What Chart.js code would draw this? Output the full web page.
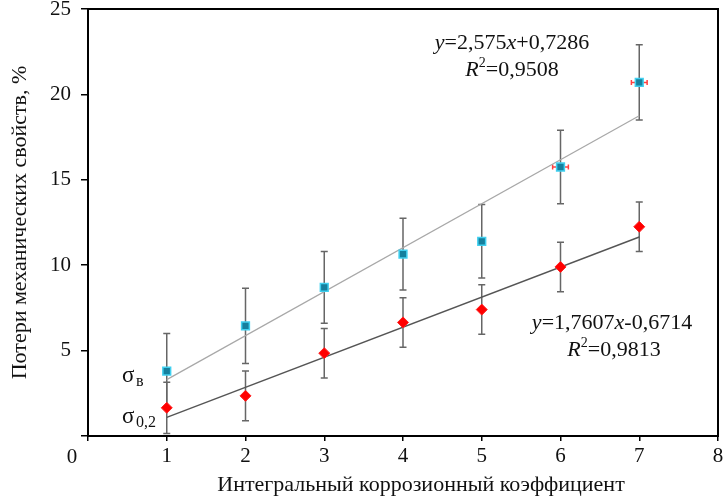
<!DOCTYPE html>
<html>
<head>
<meta charset="utf-8">
<script src="https://cdn.jsdelivr.net/npm/chart.js@4.4.1/dist/chart.umd.min.js"></script>
<style>
  html, body { margin: 0; padding: 0; background: #fff; }
  #wrap { width: 725px; height: 500px; }
</style>
</head>
<body>
<div id="wrap"><canvas id="c" width="725" height="500"></canvas></div>
<script>
// -------------------- DATA --------------------
const xValues = [1, 2, 3, 4, 5, 6, 7];
const sigmaB = [3.8, 6.45, 8.7, 10.65, 11.4, 15.75, 20.7];   // σв, blue squares
const sigmaBErr = [2.2, 2.2, 2.1, 2.1, 2.15, 2.15, 2.2];
const sigmaBxErr = [0, 0, 0, 0, 0, 0.1, 0.1];
const sigma02 = [1.65, 2.35, 4.85, 6.65, 7.4, 9.9, 12.25];   // σ0,2, red diamonds
const sigma02Err = [1.5, 1.45, 1.45, 1.45, 1.45, 1.45, 1.45];
const trendX = [1, 7];
const trendB = [3.30, 18.75];
const trend02 = [1.09, 11.65];
const yTicks = [0, 5, 10, 15, 20, 25];
const xTicks = [0, 1, 2, 3, 4, 5, 6, 7, 8];

const FONT = "'Liberation Serif', 'Times New Roman', serif";

function pts(xs, ys) { return xs.map((x, i) => ({ x: x, y: ys[i] })); }

// -------------------- PLUGINS --------------------
const errorBars = {
  id: "errorBars",
  beforeDatasetsDraw(chart) {
    const ctx = chart.ctx, xs = chart.scales.x, ys = chart.scales.y;
    const sets = [
      { vals: sigma02, err: sigma02Err },
      { vals: sigmaB, err: sigmaBErr }
    ];
    ctx.save();
    ctx.strokeStyle = "#666";
    ctx.lineWidth = 1.5;
    sets.forEach(s => {
      xValues.forEach((x, i) => {
        const px = xs.getPixelForValue(x);
        const top = ys.getPixelForValue(s.vals[i] + s.err[i]);
        const bot = ys.getPixelForValue(s.vals[i] - s.err[i]);
        ctx.beginPath();
        ctx.moveTo(px, top); ctx.lineTo(px, bot);
        ctx.moveTo(px - 3.5, top); ctx.lineTo(px + 3.5, top);
        ctx.moveTo(px - 3.5, bot); ctx.lineTo(px + 3.5, bot);
        ctx.stroke();
      });
    });
    // small horizontal error bars on σв
    ctx.strokeStyle = "#ff4040";
    ctx.lineWidth = 1.5;
    xValues.forEach((x, i) => {
      if (!sigmaBxErr[i]) return;
      const py = ys.getPixelForValue(sigmaB[i]);
      const l = xs.getPixelForValue(x - sigmaBxErr[i]);
      const r = xs.getPixelForValue(x + sigmaBxErr[i]);
      ctx.beginPath();
      ctx.moveTo(l, py); ctx.lineTo(r, py);
      ctx.moveTo(l, py - 2.5); ctx.lineTo(l, py + 2.5);
      ctx.moveTo(r, py - 2.5); ctx.lineTo(r, py + 2.5);
      ctx.stroke();
    });
    ctx.restore();
  }
};

function drawRuns(ctx, runs, cx, cy) {
  let total = 0;
  runs.forEach(r => { ctx.font = r.f; total += ctx.measureText(r.t).width; });
  let x = cx - total / 2;
  runs.forEach(r => {
    ctx.font = r.f;
    ctx.fillText(r.t, x, cy + (r.dy || 0));
    x += ctx.measureText(r.t).width;
  });
}

const annotations = {
  id: "annotations",
  afterDraw(chart) {
    const ctx = chart.ctx, a = chart.chartArea;
    ctx.save();
    // box border
    ctx.strokeStyle = "#000";
    ctx.lineWidth = 2;
    ctx.strokeRect(a.left, a.top, a.right - a.left, a.bottom - a.top);

    ctx.fillStyle = "#111";
    ctx.textBaseline = "middle";
    ctx.textAlign = "left";
    const n = "22px " + FONT, it = "italic 22px " + FONT, sup = "14px " + FONT;
    drawRuns(ctx, [{ t: "y", f: it }, { t: "=2,575", f: n }, { t: "x", f: it }, { t: "+0,7286", f: n }], 512, 43);
    drawRuns(ctx, [{ t: "R", f: it }, { t: "2", f: sup, dy: -7 }, { t: "=0,9508", f: n }], 512, 70);
    drawRuns(ctx, [{ t: "y", f: it }, { t: "=1,7607", f: n }, { t: "x", f: it }, { t: "-0,6714", f: n }], 612, 323);
    drawRuns(ctx, [{ t: "R", f: it }, { t: "2", f: sup, dy: -7 }, { t: "=0,9813", f: n }], 614, 350);

    // series labels
    ctx.font = "23px " + FONT;
    ctx.fillText("σ", 122, 376);
    ctx.font = "16px " + FONT;
    ctx.fillText("в", 136, 382);
    ctx.font = "23px " + FONT;
    ctx.fillText("σ", 122, 417);
    ctx.font = "16px " + FONT;
    ctx.fillText("0,2", 136, 423);

    // axis title and shifted origin label
    ctx.textAlign = "center";
    ctx.font = "22px " + FONT;
    ctx.fillText("Интегральный коррозионный коэффициент", 421, 485);
    ctx.font = "21px " + FONT;
    ctx.fillText("0", chart.scales.x.getPixelForValue(0) - 16, chart.scales.x.top + 21);
    ctx.restore();
  }
};

// -------------------- CHART --------------------
const ctx = document.getElementById("c").getContext("2d");
new Chart(ctx, {
  type: "scatter",
  data: {
    datasets: [
      {
        type: "line", data: pts(trendX, trendB), borderColor: "#a8a8a8", borderWidth: 1.2,
        pointRadius: 0, fill: false, order: 3
      },
      {
        type: "line", data: pts(trendX, trend02), borderColor: "#555", borderWidth: 1.4,
        pointRadius: 0, fill: false, order: 3
      },
      {
        label: "σ0,2", data: pts(xValues, sigma02), pointStyle: "rectRot", pointRadius: 5.5,
        backgroundColor: "#ff0000", borderColor: "#ff2020", borderWidth: 1, order: 1
      },
      {
        label: "σв", data: pts(xValues, sigmaB), pointStyle: "rect", pointRadius: 5.5,
        backgroundColor: "#15809e", borderColor: "#40d0f0", borderWidth: 1.5, order: 1
      }
    ]
  },
  options: {
    responsive: false,
    animation: false,
    layout: { padding: { left: 0, right: 7, top: 9, bottom: 0 } },
    plugins: { legend: { display: false }, tooltip: { enabled: false } },
    scales: {
      x: {
        type: "linear", min: 0, max: 8,
        afterBuildTicks: s => { s.ticks = xTicks.map(v => ({ value: v })); },
        afterFit: s => { s.height = 64; s.paddingLeft = 0; s.paddingRight = 0; },
        border: { display: true, color: "#000", width: 2 },
        grid: { drawOnChartArea: false, tickLength: 5, color: "#000", lineWidth: 1.5 },
        ticks: {
          color: "#111", padding: 3, font: { family: FONT, size: 21 },
          callback: v => (v === 0 ? "" : String(v))
        }
      },
      y: {
        type: "linear", min: 0, max: 25,
        afterBuildTicks: s => { s.ticks = yTicks.map(v => ({ value: v })); },
        afterFit: s => { s.width = 88; s.paddingTop = 0; s.paddingBottom = 0; },
        border: { display: true, color: "#000", width: 2 },
        grid: { drawOnChartArea: false, tickLength: 7, color: "#000", lineWidth: 1.5 },
        ticks: {
          color: "#111", padding: 10, font: { family: FONT, size: 21 },
          callback: v => (v === 0 ? "" : String(v))
        },
        title: {
          display: true, text: "Потери механических свойств, %",
          color: "#111", font: { family: FONT, size: 22 }, padding: { top: 7, bottom: 4 }
        }
      }
    }
  },
  plugins: [errorBars, annotations]
});
</script>
</body>
</html>
